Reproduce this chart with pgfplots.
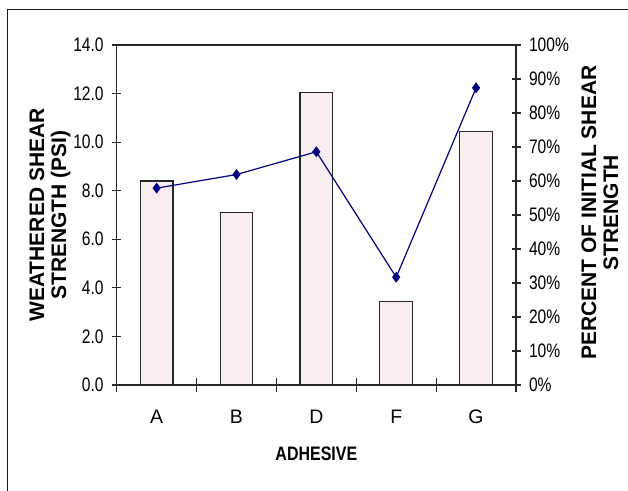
\documentclass[border=0pt]{standalone}
\usepackage{pgfplots}
\pgfplotsset{compat=1.18}
\usepackage{fontspec}
\setmainfont{Liberation Sans}
\newfontfamily\tickfont[FakeStretch=0.8]{Liberation Sans}
\newfontfamily\xlabfont[FakeStretch=0.82]{Liberation Sans}
\definecolor{barfill}{RGB}{248,238,240}
\definecolor{navyline}{RGB}{0,0,128}
\begin{document}
\begin{tikzpicture}[x=1pt,y=1pt]
\useasboundingbox (0,0) rectangle (628,490);
\draw[line width=1.5pt,black!90] (7.5,-20) -- (7.5,480.5) -- (650,480.5);
\begin{axis}[
  at={(116.7pt,105pt)}, anchor=south west,
  scale only axis, width=399.3pt, height=340pt,
  xmin=0.5, xmax=5.5, ymin=0, ymax=14,
  axis line style={line width=1.1pt, black!85},
  xtick={1,2,3,4,5},
  xticklabels={A,B,D,F,G},
  major tick length=9pt,
  tick align=center,
  tick style={line width=1.1pt, black!85},
  x tick style={draw=none},
  extra x ticks={0.5,1.5,2.5,3.5,4.5,5.5},
  extra x tick labels={},
  extra x tick style={x tick style={draw=black!85, line width=1.1pt, /pgfplots/major tick length=14pt}, tick align=center},
  ytick={0,2,...,14},
  ytick pos=left,
  xtick pos=bottom,
  /pgf/number format/assume math mode=true,
  yticklabel style={font=\tickfont\fontsize{19.5}{19.5}\selectfont, xshift=-5pt, /pgf/number format/.cd, fixed, fixed zerofill, precision=1},
  xticklabel style={font=\fontsize{19.5}{19.5}\selectfont, yshift=-17pt},
  xlabel={\xlabfont\bfseries ADHESIVE},
  xlabel style={font=\fontsize{19.5}{19.5}\selectfont, at={(axis description cs:0.5,-0.202)}, anchor=center},
  ylabel={WEATHERED SHEAR\\STRENGTH (PSI)},
  ylabel style={font=\bfseries\fontsize{21}{22}\selectfont, align=center, at={(axis description cs:-0.167,0.5)}, anchor=center, rotate=0},
]
\addplot[ybar, bar width=0.41, fill=barfill, draw=black!85, line width=1.2pt] coordinates {
  (1,8.4) (2,7.1) (3,12.05) (4,3.45) (5,10.45)
};
\end{axis}
\begin{axis}[
  at={(116.7pt,105pt)}, anchor=south west,
  scale only axis, width=399.3pt, height=340pt,
  xmin=0.5, xmax=5.5, ymin=0, ymax=100,
  axis x line=none,
  axis y line*=right,
  axis line style={line width=1.1pt, black!85, -},
  major tick length=9pt,
  tick align=center,
  tick style={line width=1.1pt, black!85},
  ytick={0,10,...,100},
  /pgf/number format/assume math mode=true,
  yticklabel={\pgfmathparse{int(round(\tick))}\pgfmathresult\%},
  yticklabel style={font=\tickfont\fontsize{19.5}{19.5}\selectfont, xshift=5pt},
  ylabel={PERCENT OF INITIAL SHEAR\\STRENGTH},
  ylabel style={font=\bfseries\fontsize{21}{22}\selectfont, align=center, at={(axis description cs:1.21,0.507)}, anchor=center},
]
\addplot[navyline, line width=1.2pt, mark=diamond*, mark size=4.5pt, mark options={fill=navyline, draw=navyline}] coordinates {
  (1,57.9) (2,61.9) (3,68.6) (4,31.7) (5,87.4)
};
\end{axis}
\end{tikzpicture}
\end{document}
